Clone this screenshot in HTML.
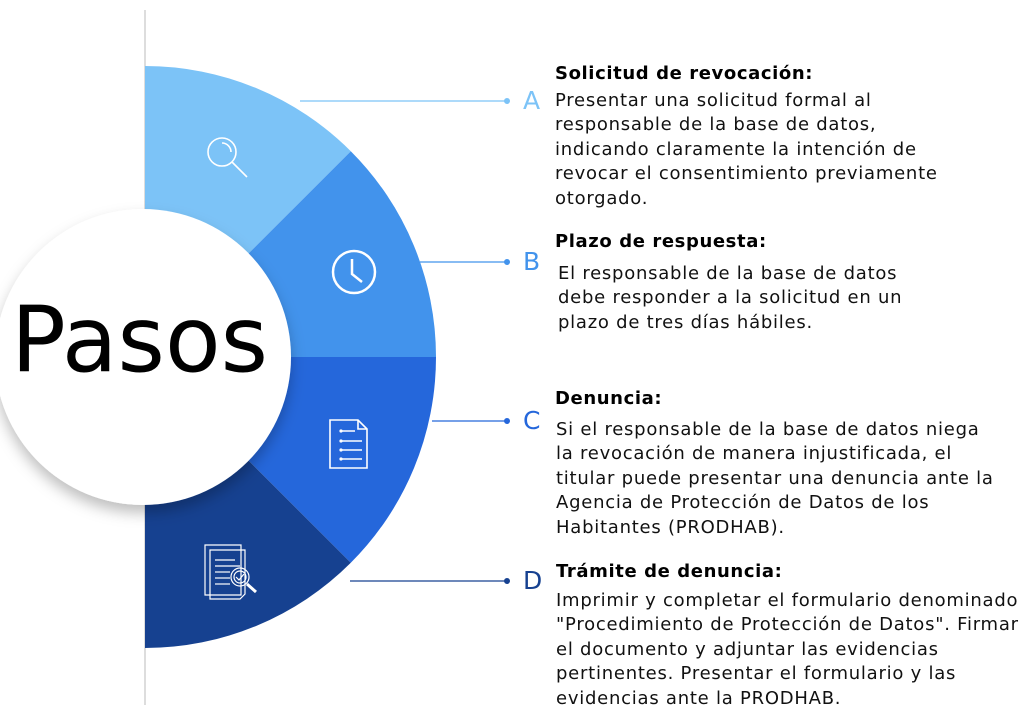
<!DOCTYPE html>
<html><head><meta charset="utf-8"><style>
html,body{margin:0;padding:0;background:#fff;width:1019px;height:713px;overflow:hidden;position:relative;font-family:"DejaVu Sans","Liberation Sans",sans-serif;}
.t{position:absolute;font-size:18px;letter-spacing:0.75px;line-height:24.4px;color:#111;white-space:nowrap;}
.h{position:absolute;font-size:18px;letter-spacing:0.6px;font-weight:bold;color:#000;white-space:nowrap;}
.L{position:absolute;font-size:25px;font-family:"DejaVu Sans",sans-serif;}
</style></head><body>
<svg width="1019" height="713" style="position:absolute;left:0;top:0">
<defs>
<filter id="sh" x="-20%" y="-20%" width="140%" height="150%"><feDropShadow dx="0" dy="8" stdDeviation="7" flood-color="#000" flood-opacity="0.25"/></filter>
</defs>
<line x1="145" y1="10" x2="145" y2="705" stroke="#ddd" stroke-width="2"/>
<path d="M145,357 L145,66 A291,291 0 0 1 350.8,151.2 Z" fill="#7cc3f7"/>
<path d="M145,357 L350.8,151.2 A291,291 0 0 1 436,357 Z" fill="#4293ec"/>
<path d="M145,357 L436,357 A291,291 0 0 1 350.8,562.8 Z" fill="#2567db"/>
<path d="M145,357 L350.8,562.8 A291,291 0 0 1 145,648 Z" fill="#164190"/>
<circle cx="143" cy="357" r="148" fill="#fff" filter="url(#sh)"/>
<g stroke-width="1.3">
<line x1="300" y1="101" x2="507" y2="101" stroke="#7cc3f7"/><circle cx="507" cy="101" r="3" fill="#7cc3f7"/>
<line x1="420" y1="262" x2="507" y2="262" stroke="#4293ec"/><circle cx="507" cy="262" r="3" fill="#4293ec"/>
<line x1="432" y1="421" x2="507" y2="421" stroke="#2567db"/><circle cx="507" cy="421" r="3" fill="#2567db"/>
<line x1="350" y1="581" x2="507" y2="581" stroke="#164190"/><circle cx="507" cy="581" r="3" fill="#164190"/>
</g>
<g fill="none" stroke="#fff" stroke-width="1.6">
<circle cx="222" cy="152" r="14"/><line x1="232" y1="162" x2="247" y2="177"/><path d="M222,143 a9,9 0 0 1 9,9"/>
<circle cx="354" cy="272" r="21" stroke-width="2.5"/><polyline points="352,259 352,274 362,282" stroke-width="2.5"/>
<path d="M330,420 h28 l9,9 v39 h-37 Z"/><path d="M358,420 v9 h9"/>
<g stroke-width="1.5"><line x1="341" y1="431" x2="355" y2="431"/><line x1="341" y1="441" x2="362" y2="441"/><line x1="341" y1="450" x2="362" y2="450"/><line x1="341" y1="459" x2="362" y2="459"/></g>
<g stroke-width="1.2"><path d="M205,545 h36 v50 h-36 Z"/><path d="M210,550 h35 v44 l-5,5 h-30 Z"/><line x1="215" y1="560" x2="235" y2="560"/><line x1="215" y1="566" x2="240" y2="566"/><line x1="215" y1="572" x2="230" y2="572"/><line x1="215" y1="578" x2="230" y2="578"/><line x1="215" y1="584" x2="230" y2="584"/><circle cx="240" cy="577" r="9"/><circle cx="240" cy="577" r="6"/><polyline points="236,577 239,580 244,574"/><line x1="247" y1="584" x2="256" y2="592" stroke-width="3"/></g>
</g>
<g fill="#fff"><circle cx="341" cy="431" r="1.6"/><circle cx="341" cy="441" r="1.6"/><circle cx="341" cy="450" r="1.6"/><circle cx="341" cy="459" r="1.6"/></g>
<text x="11" y="371" font-family="DejaVu Sans, sans-serif" font-size="91" fill="#000">Pasos</text>
</svg>
<div class="L" style="left:523px;top:86px;color:#7cc3f7">A</div>
<div class="L" style="left:523px;top:247px;color:#4293ec">B</div>
<div class="L" style="left:523px;top:406px;color:#2567db">C</div>
<div class="L" style="left:523px;top:566px;color:#164190">D</div>

<div class="h" style="left:555px;top:63px">Solicitud de revocación:</div>
<div class="t" style="left:555px;top:89px">Presentar una solicitud formal al<br>responsable de la base de datos,<br>indicando claramente la intención de<br>revocar el consentimiento previamente<br>otorgado.</div>

<div class="h" style="left:555px;top:231px">Plazo de respuesta:</div>
<div class="t" style="left:558px;top:262px">El responsable de la base de datos<br>debe responder a la solicitud en un<br>plazo de tres días hábiles.</div>

<div class="h" style="left:555px;top:388px">Denuncia:</div>
<div class="t" style="left:556px;top:418px">Si el responsable de la base de datos niega<br>la revocación de manera injustificada, el<br>titular puede presentar una denuncia ante la<br>Agencia de Protección de Datos de los<br>Habitantes (PRODHAB).</div>

<div class="h" style="left:556px;top:561px">Trámite de denuncia:</div>
<div class="t" style="left:556px;top:589px">Imprimir y completar el formulario denominado<br>"Procedimiento de Protección de Datos". Firmar<br>el documento y adjuntar las evidencias<br>pertinentes. Presentar el formulario y las<br>evidencias ante la PRODHAB.</div>
</body></html>
